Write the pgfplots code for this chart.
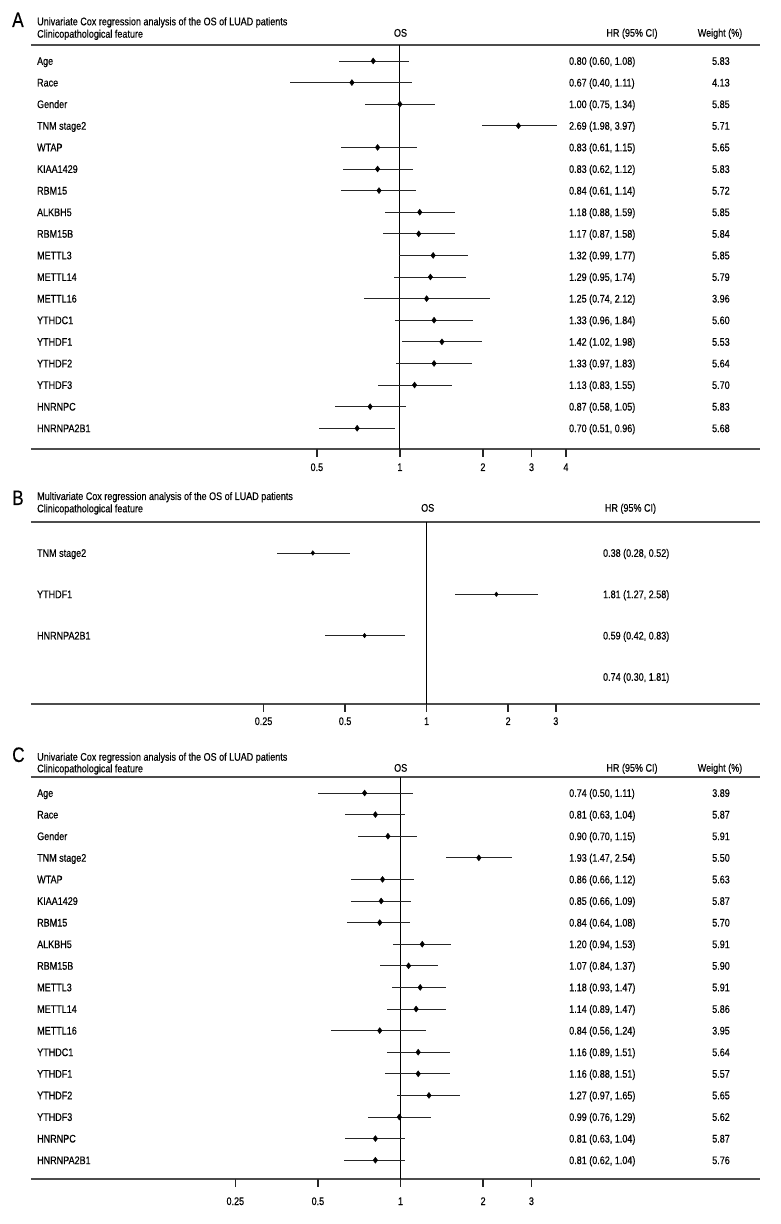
\documentclass[border=0pt]{standalone}
\usepackage{pgfplots}
\usepackage{pgfplotstable}
\pgfplotsset{compat=1.18}
\usepackage{fontspec}
\setmainfont{Liberation Sans}[FakeStretch=0.82, FakeBold=0.35]
\newcommand{\rf}{\fontsize{11}{13}\selectfont}
\newcommand{\bigf}{\fontsize{21}{24}\selectfont}

\pgfplotstableread[col sep=semicolon,row sep=\\]{
row;label;hr;lo;hi;txt;w\\
1;Age;0.80;0.60;1.08;0.80 (0.60, 1.08);5.83\\
2;Race;0.67;0.40;1.11;0.67 (0.40, 1.11);4.13\\
3;Gender;1.00;0.75;1.34;1.00 (0.75, 1.34);5.85\\
4;TNM stage2;2.69;1.98;3.70;2.69 (1.98, 3.97);5.71\\
5;WTAP;0.83;0.61;1.15;0.83 (0.61, 1.15);5.65\\
6;KIAA1429;0.83;0.62;1.12;0.83 (0.62, 1.12);5.83\\
7;RBM15;0.84;0.61;1.14;0.84 (0.61, 1.14);5.72\\
8;ALKBH5;1.18;0.88;1.59;1.18 (0.88, 1.59);5.85\\
9;RBM15B;1.17;0.87;1.58;1.17 (0.87, 1.58);5.84\\
10;METTL3;1.32;0.99;1.77;1.32 (0.99, 1.77);5.85\\
11;METTL14;1.29;0.95;1.74;1.29 (0.95, 1.74);5.79\\
12;METTL16;1.25;0.74;2.12;1.25 (0.74, 2.12);3.96\\
13;YTHDC1;1.33;0.96;1.84;1.33 (0.96, 1.84);5.60\\
14;YTHDF1;1.42;1.02;1.98;1.42 (1.02, 1.98);5.53\\
15;YTHDF2;1.33;0.97;1.83;1.33 (0.97, 1.83);5.64\\
16;YTHDF3;1.13;0.83;1.55;1.13 (0.83, 1.55);5.70\\
17;HNRNPC;0.78;0.58;1.05;0.87 (0.58, 1.05);5.83\\
18;HNRNPA2B1;0.70;0.51;0.96;0.70 (0.51, 0.96);5.68\\
}\tabA

\pgfplotstableread[col sep=semicolon,row sep=\\]{
row;label;hr;lo;hi;txt\\
1;TNM stage2;0.38;0.28;0.52;0.38 (0.28, 0.52)\\
2;YTHDF1;1.81;1.27;2.58;1.81 (1.27, 2.58)\\
3;HNRNPA2B1;0.59;0.42;0.83;0.59 (0.42, 0.83)\\
4;-;0.74;0.30;1.81;0.74 (0.30, 1.81)\\
}\tabB

\pgfplotstableread[col sep=semicolon,row sep=\\]{
row;label;hr;lo;hi;txt;w\\
1;Age;0.74;0.50;1.11;0.74 (0.50, 1.11);3.89\\
2;Race;0.81;0.63;1.04;0.81 (0.63, 1.04);5.87\\
3;Gender;0.90;0.70;1.15;0.90 (0.70, 1.15);5.91\\
4;TNM stage2;1.93;1.47;2.54;1.93 (1.47, 2.54);5.50\\
5;WTAP;0.86;0.66;1.12;0.86 (0.66, 1.12);5.63\\
6;KIAA1429;0.85;0.66;1.09;0.85 (0.66, 1.09);5.87\\
7;RBM15;0.84;0.64;1.08;0.84 (0.64, 1.08);5.70\\
8;ALKBH5;1.20;0.94;1.53;1.20 (0.94, 1.53);5.91\\
9;RBM15B;1.07;0.84;1.37;1.07 (0.84, 1.37);5.90\\
10;METTL3;1.18;0.93;1.47;1.18 (0.93, 1.47);5.91\\
11;METTL14;1.14;0.89;1.47;1.14 (0.89, 1.47);5.86\\
12;METTL16;0.84;0.56;1.24;0.84 (0.56, 1.24);3.95\\
13;YTHDC1;1.16;0.89;1.51;1.16 (0.89, 1.51);5.64\\
14;YTHDF1;1.16;0.88;1.51;1.16 (0.88, 1.51);5.57\\
15;YTHDF2;1.27;0.97;1.65;1.27 (0.97, 1.65);5.65\\
16;YTHDF3;0.99;0.76;1.29;0.99 (0.76, 1.29);5.62\\
17;HNRNPC;0.81;0.63;1.04;0.81 (0.63, 1.04);5.87\\
18;HNRNPA2B1;0.81;0.62;1.04;0.81 (0.62, 1.04);5.76\\
}\tabC

\pgfplotsset{
  fppanel/.style={
    scale only axis, width=729pt,
    axis y line=none, axis x line=box, clip=false,
    axis line style={black!70, line width=1.3pt},
    xtick pos=bottom, xtick align=outside, ytick=\empty,
    minor xtick={},
    major tick length=8pt,
    xtick style={draw=none},
    xticklabel style={font=\rf, anchor=base, yshift=#1},
    anchor=south west,
  },
  tickmarks/.style={only marks, mark=|, mark size=4pt,
    mark options={yshift=-4pt, line width=1.5pt, draw=black!85}},
  cimarks/.style={only marks, mark=diamond*, mark size=3pt, black,
    mark options={fill=black},
    error bars/x dir=both, error bars/x explicit,
    error bars/error bar style={line width=0.8pt, black!85},
    error bars/error mark=none},
  textcol/.style={draw=none, mark=none, nodes near coords, point meta=explicit symbolic,
    nodes near coords style={font=\rf, inner sep=0pt, anchor=base west, yshift=-3.9pt, #1}},
  textmid/.style={draw=none, mark=none, nodes near coords, point meta=explicit symbolic,
    nodes near coords style={font=\rf, inner sep=0pt, anchor=base, yshift=-3.9pt, #1}},
}

\begin{document}
\begin{tikzpicture}
\useasboundingbox (0pt,0pt) rectangle (780pt,1224pt);

% ---------------- Panel A (rows plotted at y = -row)
\begin{axis}[fppanel=-14pt, xmode=log, at={(31pt,775pt)}, height=404pt,
  xmin=0.04597, xmax=20.21, ymin=-18.96, ymax=-0.26,
  xtick={0.5,1,2,3,4}, xticklabels={0.5,1,2,3,4}]
  \addplot[black, line width=1pt] coordinates {(1,-0.26) (1,-18.96)};
  \addplot[tickmarks] coordinates {(0.5,-18.96) (1,-18.96) (2,-18.96) (3,-18.96) (4,-18.96)};
  \addplot[cimarks] table[x=hr, y expr=-\thisrow{row},
     x error plus expr=\thisrow{hi}-\thisrow{hr},
     x error minus expr=\thisrow{hr}-\thisrow{lo}] {\tabA};
  \addplot[textcol={xshift=-363pt}] table[x expr=1, y expr=-\thisrow{row}, meta=label] {\tabA};
  \addplot[textcol={xshift=169pt}] table[x expr=1, y expr=-\thisrow{row}, meta=txt] {\tabA};
  \addplot[textmid={xshift=321pt}] table[x expr=1, y expr=-\thisrow{row}, meta=w] {\tabA};
\end{axis}

% ---------------- Panel B
\begin{axis}[fppanel=-13pt, xmode=log, at={(31pt,520pt)}, height=182pt,
  xmin=0.0346, xmax=17.03, ymin=-4.656, ymax=-0.25,
  xtick={0.25,0.5,1,2,3}, xticklabels={0.25,0.5,1,2,3}]
  \addplot[black, line width=1pt] coordinates {(1,-0.25) (1,-4.656)};
  \addplot[tickmarks] coordinates {(0.25,-4.656) (0.5,-4.656) (1,-4.656) (2,-4.656) (3,-4.656)};
  \addplot[cimarks, mark size=2.3pt, skip coords between index={3}{4}] table[x=hr, y expr=-\thisrow{row},
     x error plus expr=\thisrow{hi}-\thisrow{hr},
     x error minus expr=\thisrow{hr}-\thisrow{lo}] {\tabB};
  \addplot[textcol={xshift=-389.7pt}, skip coords between index={3}{4}] table[x expr=1, y expr=-\thisrow{row}, meta=label] {\tabB};
  \addplot[textcol={xshift=176.3pt}] table[x expr=1, y expr=-\thisrow{row}, meta=txt] {\tabB};
\end{axis}

% ---------------- Panel C
\begin{axis}[fppanel=-18pt, xmode=log, at={(31pt,45pt)}, height=402pt,
  xmin=0.0450, xmax=20.43, ymin=-18.87, ymax=-0.259,
  xtick={0.25,0.5,1,2,3}, xticklabels={0.25,0.5,1,2,3}]
  \addplot[black, line width=1pt] coordinates {(1,-0.259) (1,-18.87)};
  \addplot[tickmarks] coordinates {(0.25,-18.87) (0.5,-18.87) (1,-18.87) (2,-18.87) (3,-18.87)};
  \addplot[cimarks] table[x=hr, y expr=-\thisrow{row},
     x error plus expr=\thisrow{hi}-\thisrow{hr},
     x error minus expr=\thisrow{hr}-\thisrow{lo}] {\tabC};
  \addplot[textcol={xshift=-363.5pt}] table[x expr=1, y expr=-\thisrow{row}, meta=label] {\tabC};
  \addplot[textcol={xshift=168.5pt}] table[x expr=1, y expr=-\thisrow{row}, meta=txt] {\tabC};
  \addplot[textmid={xshift=320.5pt}] table[x expr=1, y expr=-\thisrow{row}, meta=w] {\tabC};
\end{axis}

% ---------------- Headers
\begin{scope}[every node/.style={inner sep=0pt, font=\rf}]
\node[anchor=base west, font=\bigf] at (12pt,1197pt) {A};
\node[anchor=base west] at (37pt,1198.7pt) {Univariate Cox regression analysis of the OS of LUAD patients};
\node[anchor=base west] at (37pt,1186.3pt) {Clinicopathological feature};
\node[anchor=base] at (400.5pt,1187.3pt) {OS};
\node[anchor=base] at (632pt,1187.3pt) {HR (95\% CI)};
\node[anchor=base] at (720pt,1187.3pt) {Weight (\%)};

\node[anchor=base west, font=\bigf] at (12pt,719pt) {B};
\node[anchor=base west] at (37pt,724pt) {Multivariate Cox regression analysis of the OS of LUAD patients};
\node[anchor=base west] at (37pt,711.7pt) {Clinicopathological feature};
\node[anchor=base] at (427.7pt,712.3pt) {OS};
\node[anchor=base] at (630.5pt,712.3pt) {HR (95\% CI)};

\node[anchor=base west, font=\bigf] at (12pt,462pt) {C};
\node[anchor=base west] at (37pt,463.3pt) {Univariate Cox regression analysis of the OS of LUAD patients};
\node[anchor=base west] at (37pt,451.7pt) {Clinicopathological feature};
\node[anchor=base] at (400.7pt,452.3pt) {OS};
\node[anchor=base] at (632pt,452.3pt) {HR (95\% CI)};
\node[anchor=base] at (720pt,452.3pt) {Weight (\%)};
\end{scope}
\end{tikzpicture}
\end{document}
